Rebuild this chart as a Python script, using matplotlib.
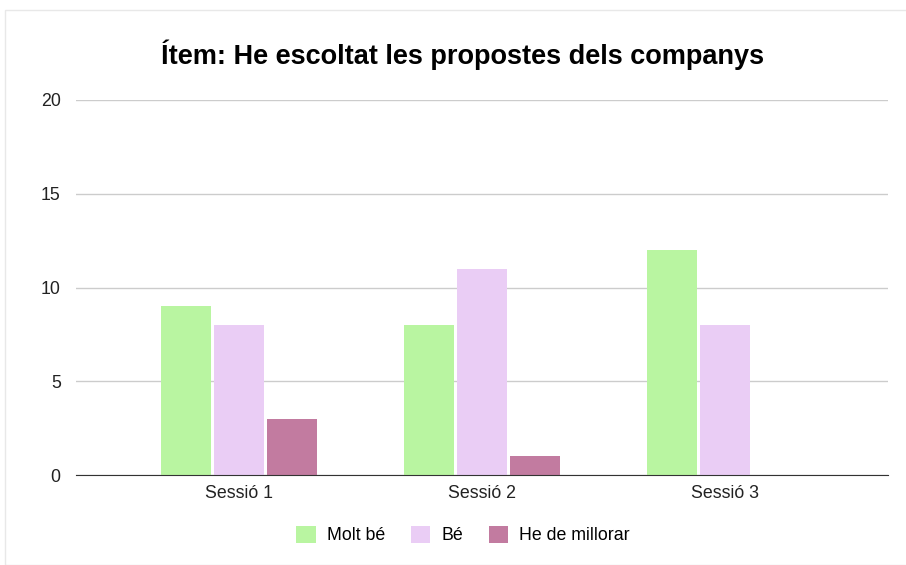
import matplotlib
matplotlib.use("Agg")
import matplotlib.pyplot as plt
import numpy as np
from matplotlib.patches import Rectangle

categories = ["Sessió 1", "Sessió 2", "Sessió 3"]
series_names = ["Molt bé", "Bé", "He de millorar"]
molt_be = [9, 8, 12]
be = [8, 11, 8]
millorar = [3, 1, 0]
colors = ["#b9f5a1", "#eacdf5", "#c27ba0"]

plt.rcParams['font.family'] = ['Liberation Sans', 'DejaVu Sans']

fig = plt.figure(figsize=(9.06, 5.65), dpi=100)
fig.patches.append(Rectangle((5/906, 0), 1, 1 - 10/565, transform=fig.transFigure,
                             fill=False, edgecolor="#e8e8e8", linewidth=1))
ax = fig.add_axes([76/906, 1 - 475/565, 812/906, 375/565])

x = np.arange(len(categories))
w = 0.206
off = 0.218
for i, (vals, name) in enumerate(zip([molt_be, be, millorar], series_names)):
    ax.bar(x + (i - 1) * off, vals, width=w, color=colors[i], label=name, zorder=3)

ax.set_ylim(0, 20)
ax.set_yticks([0, 5, 10, 15, 20])
ax.set_xlim(-0.673, 2.673)
ax.set_xticks(x)
ax.set_xticklabels(categories)
ax.grid(axis='y', color="#cccccc", linewidth=1, zorder=0)
for s in ["top", "right", "left"]:
    ax.spines[s].set_visible(False)
ax.spines["bottom"].set_color("#333333")
ax.spines["bottom"].set_zorder(4)
ax.tick_params(axis='both', length=0, labelsize=12.8, colors="#222222", pad=7)
ax.tick_params(axis='y', pad=11)

fig.text(463/906, 1 - 55/565, "Ítem: He escoltat les propostes dels companys",
         ha='center', va='center', fontsize=19.5, fontweight='bold', color="#000000")

leg = fig.legend(loc='center', bbox_to_anchor=(463/906, 1 - 535/565), ncol=3, frameon=False,
                 fontsize=12.8, handlelength=1.1, handleheight=1.1, columnspacing=1.45,
                 handletextpad=0.62)

fig.savefig("out.png", dpi=100)
